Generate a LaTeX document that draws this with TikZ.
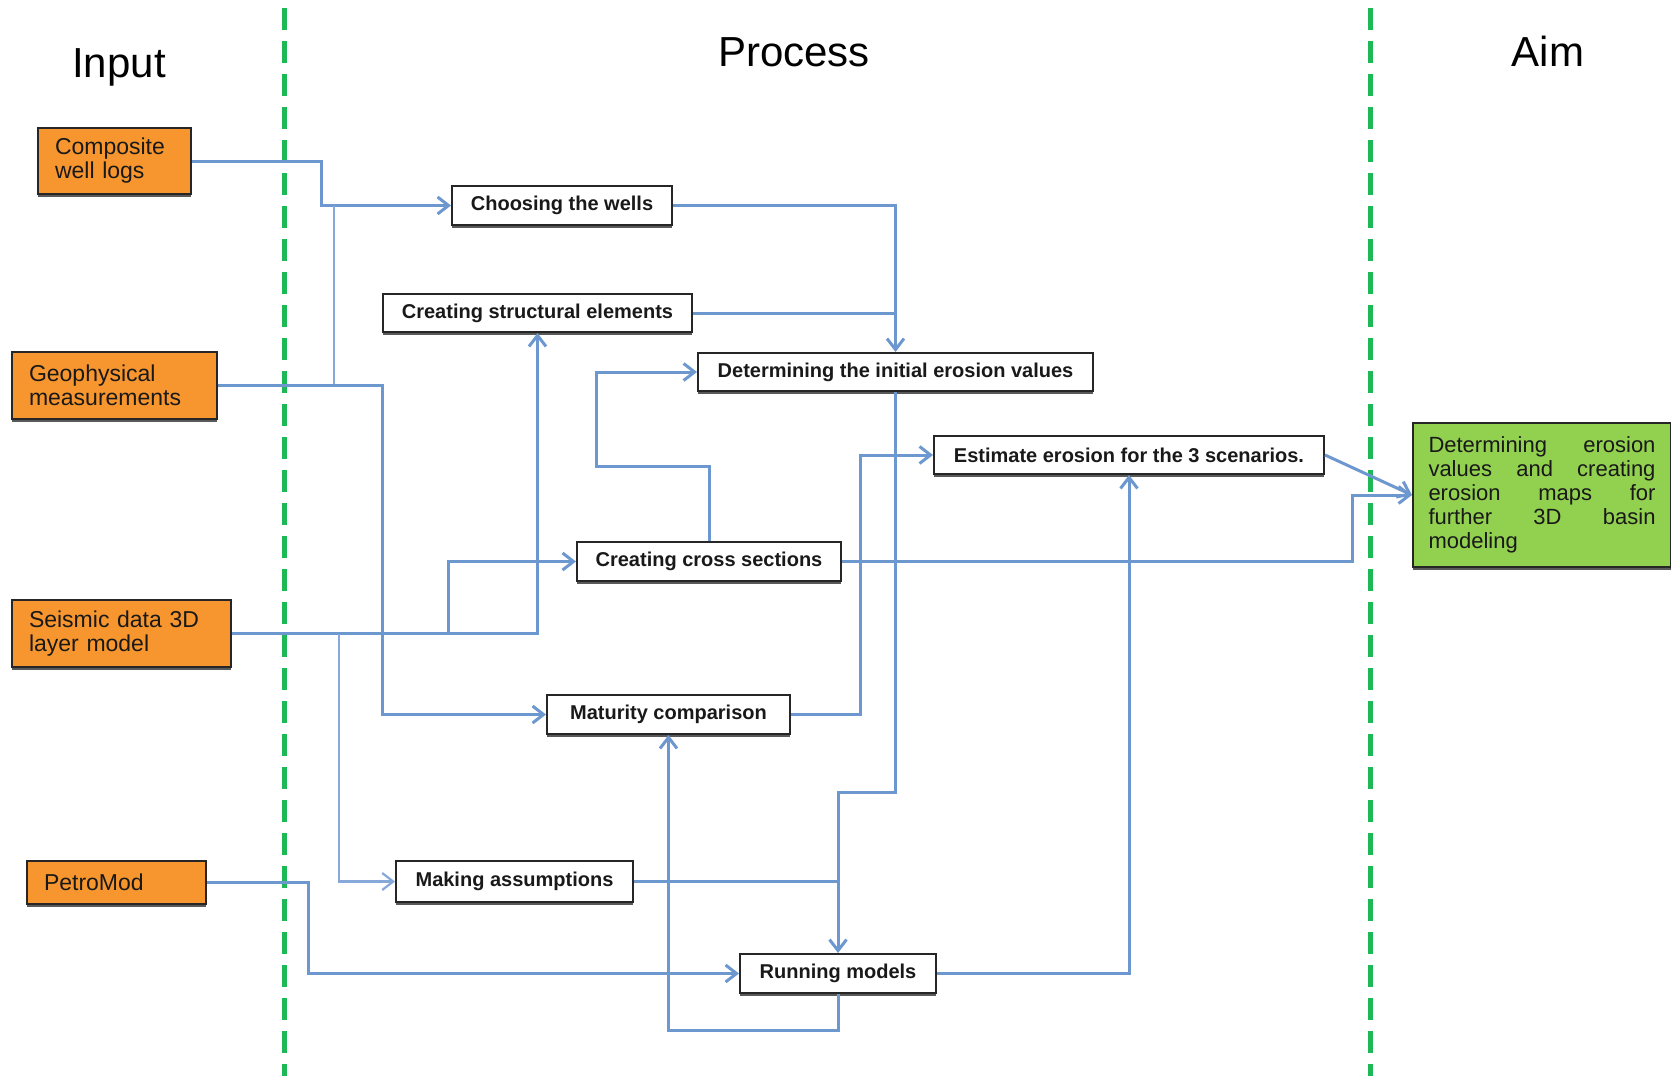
\documentclass[tikz,border=0pt]{standalone}
\usepackage{fontspec}
\setmainfont{Liberation Sans}
\usepackage{xcolor}
\definecolor{flblue}{HTML}{6D97CF}
\definecolor{flbluelt}{HTML}{86A9DA}
\definecolor{florange}{HTML}{F7962F}
\definecolor{flgreen}{HTML}{92D050}
\definecolor{fllane}{HTML}{1DB954}
\usepackage{tikz}
\usetikzlibrary{arrows.meta,shadows}
\tikzset{
  >={Straight Barb[length=11pt,width=17pt]},
  flow/.style={flblue, line width=3pt},
  thinflow/.style={flbluelt, line width=2.2pt},
  lane/.style={fllane, line width=5pt, dash pattern=on 22pt off 11pt},
  ttl/.style={font=\fontsize{42}{46}\selectfont, anchor=base, text=black},
  boxshadow/.style={drop shadow={shadow xshift=0pt, shadow yshift=-3pt,
    fill=black!65, opacity=1}},
  inbox/.style={draw=black!85, line width=1.5pt, fill=florange, text=black!90,
    font=\fontsize{23}{24}\selectfont, align=left, inner xsep=17pt,
    inner ysep=0pt, boxshadow},
  stepbox/.style={draw=black!85, line width=2pt, fill=white, text=black!90,
    font=\bfseries\fontsize{20}{22}\selectfont, inner sep=0pt, boxshadow},
  aimbox/.style={draw=black!85, line width=2pt, fill=flgreen, text=black!90,
    font=\fontsize{22}{24}\selectfont, align=left, inner xsep=15.5pt,
    inner ysep=0pt, boxshadow},
}
\newcommand{\jline}[1]{\makebox[\hsize][s]{\spaceskip=0pt\xspaceskip=0pt #1}}

\begin{document}
\begin{tikzpicture}[x=1pt, y=-1pt]
\useasboundingbox (0,0) rectangle (1671,1076);
% ------------------------------------------------------------- lanes
\draw[lane] (284.5,8) -- (284.5,1076);
\draw[lane] (1370.5,8) -- (1370.5,1076);
\node[ttl] (tin) at (119,77) {Input};
\node[ttl] (tproc) at (794,66) {Process};
\node[ttl] (taim) at (1548,66) {Aim};

% ------------------------------------------------------------- input
\node[inbox, text width=119pt, minimum height=66pt] (comp) at (114.5,161)
  {Composite\\well logs};
\node[inbox, text width=171pt, minimum height=67pt] (geo) at (114.5,385.5)
  {Geophysical\\measurements};
\node[inbox, text width=185pt, minimum height=67pt] (seis) at (121.5,633.5)
  {Seismic data 3D\\layer model};
\node[inbox, text width=145pt, minimum height=43pt] (petro) at (116.5,882.5)
  {PetroMod};

% ------------------------------------------------------------- process
\node[stepbox, minimum width=220pt, minimum height=39pt] (wells) at (562,205.5)
  {Choosing the wells};
\node[stepbox, minimum width=309pt, minimum height=38pt] (struct) at (537.5,313)
  {Creating structural elements};
\node[stepbox, minimum width=395pt, minimum height=38pt] (init) at (895.5,372)
  {Determining the initial erosion values};
\node[stepbox, minimum width=390pt, minimum height=38pt] (est) at (1129,455)
  {Estimate erosion for the 3 scenarios.};
\node[stepbox, minimum width=264pt, minimum height=39pt] (cross) at (709,561.5)
  {Creating cross sections};
\node[stepbox, minimum width=243pt, minimum height=39pt] (mat) at (668.5,714.5)
  {Maturity comparison};
\node[stepbox, minimum width=237pt, minimum height=41pt] (assume) at (514.5,881.5)
  {Making assumptions};
\node[stepbox, minimum width=196pt, minimum height=39pt] (run) at (838,973.5)
  {Running models};

% ------------------------------------------------------------- aim
\node[aimbox, text width=227pt, minimum height=144pt] (aim) at (1542,495)
  {\jline{Determining erosion}\\\jline{values and creating}\\
   \jline{erosion maps for}\\\jline{further 3D basin}\\modeling};

% ------------------------------------------------------------- connectors
\coordinate (busW) at (321,0);
\coordinate (busT) at (334,0);
\coordinate (busM) at (339,0);
\coordinate (busG) at (382.7,0);
\coordinate (busS) at (448,0);
\coordinate (busP) at (308,0);
\coordinate (busE) at (860,0);
\coordinate (busR) at (1352,0);
\coordinate (jog) at (838,792);
\coordinate (loop) at (596,466);
\coordinate (back) at (667,1030.5);

\draw[flow,->] (comp.east) -| (busW |- wells.west) -- (wells.west);
\draw[thinflow] (geo.east -| busT) -- (busT |- wells.west);
\draw[flow,->] (geo.east) -| (busG |- mat.west) -- (mat.west);
\draw[flow,->] (seis.east) -| (struct.south);
\draw[flow,->] (seis.east -| busS) |- (cross.west);
\draw[thinflow,->] (seis.east -| busM) |- (assume.west);
\draw[flow,->] (petro.east) -| (busP |- run.west) -- (run.west);

\draw[flow,->] (wells.east) -| (init.north);
\draw[flow] (struct.east) -- (struct.east -| init.north);
\draw[flow,->] (init.south) |- (jog) -- (run.north);
\draw[flow] (assume.east) -- (assume.east -| run.north);
\draw[flow,->] (cross.north) |- (loop) |- (init.west);
\draw[flow,->] (cross.east) -| (busR |- aim.west) -- (aim.west);
\draw[flow,->] (est.east) -- (aim.west);
\draw[flow,->] (mat.east) -| (busE |- est.west) -- (est.west);
\draw[flow,->] (run.east) -| (est.south);
\draw[flow,->] (run.south) |- (back) -| (mat.south);
\end{tikzpicture}
\end{document}
